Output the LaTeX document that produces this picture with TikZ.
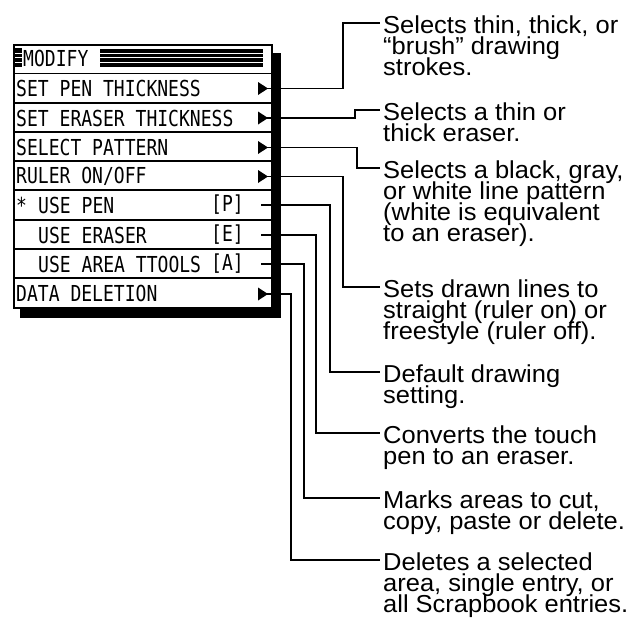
\documentclass[tikz,border=0pt]{standalone}
\usepackage{fontspec}
\setmainfont{Liberation Sans}
\newfontfamily\lblfont[FakeStretch=1.04]{Liberation Sans}
\newfontfamily\menufont[FakeStretch=0.82]{DejaVu Sans Mono}
\newcommand\lblsetup{\lblfont\fontsize{24.5}{20.8}\selectfont\lineskiplimit=-100pt\relax\lineskip=0pt\relax}
\usetikzlibrary{calc}
\begin{document}
\begin{tikzpicture}[x=1pt,y=-1pt,
  menutext/.style={font=\menufont\fontsize{22}{22}\selectfont, anchor=west, inner sep=0pt},
  lbl/.style={font=\lblsetup, align=left, anchor=north west, inner sep=0pt},
  conn/.style={line width=1.1pt, line cap=rect},
  rowline/.style={line width=1.1pt},
  tri/.style={fill=black}]
\useasboundingbox (0,0) rectangle (633,621);
% shadow and box
\fill[black] (20,53) rectangle (281,318);
\draw[fill=white, line width=1.2pt] (14,45) rectangle (272,308);
% row dividers
\foreach \y in {73.5,103,132,161,190,220,249,278}
  \draw[rowline] (14,\y) -- (272,\y);
% header
\fill[black] (15,48) rectangle (22,67);
\fill[black] (100,49) rectangle (263,67);
\foreach \y in {53,57.5,62}{
  \draw[white, line width=1pt] (15,\y) -- (22,\y);
  \draw[white, line width=1pt] (100,\y) -- (263,\y);}
\node[menutext] (hd) at (23,58) {MODIFY};
% rows
\node[menutext] (r1) at (16,88.5) {SET PEN THICKNESS};
\node[menutext] (r2) at (16,118) {SET ERASER THICKNESS};
\node[menutext] (r3) at (16,147) {SELECT PATTERN};
\node[menutext] (r4) at (16,176) {RULER ON/OFF};
\node[menutext] (r5) at (16,205) {*};
\node[menutext] (r5b) at (38,205) {USE PEN};
\node[menutext] (r6) at (38,235) {USE ERASER};
\node[menutext] (r7) at (38,264) {USE AREA TTOOLS};
\node[menutext] (r8) at (16,293) {DATA DELETION};
\node[menutext] (k5) at (211,205) {[P]};
\node[menutext] (k6) at (211,235) {[E]};
\node[menutext] (k7) at (211,264) {[A]};
% row end points
\coordinate (a1) at (268,88.5);
\coordinate (a2) at (268,118);
\coordinate (a3) at (268,147.5);
\coordinate (a4) at (268,176.5);
\coordinate (a5) at (262,205);
\coordinate (a6) at (262,235);
\coordinate (a7) at (262,264);
\coordinate (a8) at (268,294);
\foreach \c in {a1,a2,a3,a4,a8}
  \fill[tri] ($(\c)+(-10,-6.5)$) -- ($(\c)+(-10,6.5)$) -- (\c) -- cycle;
% label ends
\coordinate (e1) at (379,23);
\coordinate (e2) at (379,110);
\coordinate (e3) at (379,168);
\coordinate (e4) at (379,287);
\coordinate (e5) at (379,372);
\coordinate (e6) at (379,433);
\coordinate (e7) at (379,498);
\coordinate (e8) at (379,560);
% labels
\node[lbl] (l1) at ($(e1)+(4,-7)$) {Selects thin, thick, or\\“brush” drawing\\strokes.};
\node[lbl] (l2) at ($(e2)+(4,-7)$) {Selects a thin or\\thick eraser.};
\node[lbl] (l3) at ($(e3)+(4,-7)$) {Selects a black, gray,\\or white line pattern\\(white is equivalent\\to an eraser).};
\node[lbl] (l4) at ($(e4)+(4,-7)$) {Sets drawn lines to\\straight (ruler on) or\\freestyle (ruler off).};
\node[lbl] (l5) at ($(e5)+(4,-7)$) {Default drawing\\setting.};
\node[lbl] (l6) at ($(e6)+(4,-7)$) {Converts the touch\\pen to an eraser.};
\node[lbl] (l7) at ($(e7)+(4,-7)$) {Marks areas to cut,\\copy, paste or delete.};
\node[lbl] (l8) at ($(e8)+(4,-7)$) {Deletes a selected\\area, single entry, or\\all Scrapbook entries.};
% connectors
\draw[conn] (a1) -| (343,23) -- (e1);
\draw[conn] (a2) -| (355,110) -- (e2);
\draw[conn] (a3) -| (357,168) -- (e3);
\draw[conn] (a4) -| (343,287) -- (e4);
\draw[conn] (a5) -| (330,372) -- (e5);
\draw[conn] (a6) -| (316,433) -- (e6);
\draw[conn] (a7) -| (304,498) -- (e7);
\draw[conn] (a8) -| (291,560) -- (e8);
\end{tikzpicture}
\end{document}
